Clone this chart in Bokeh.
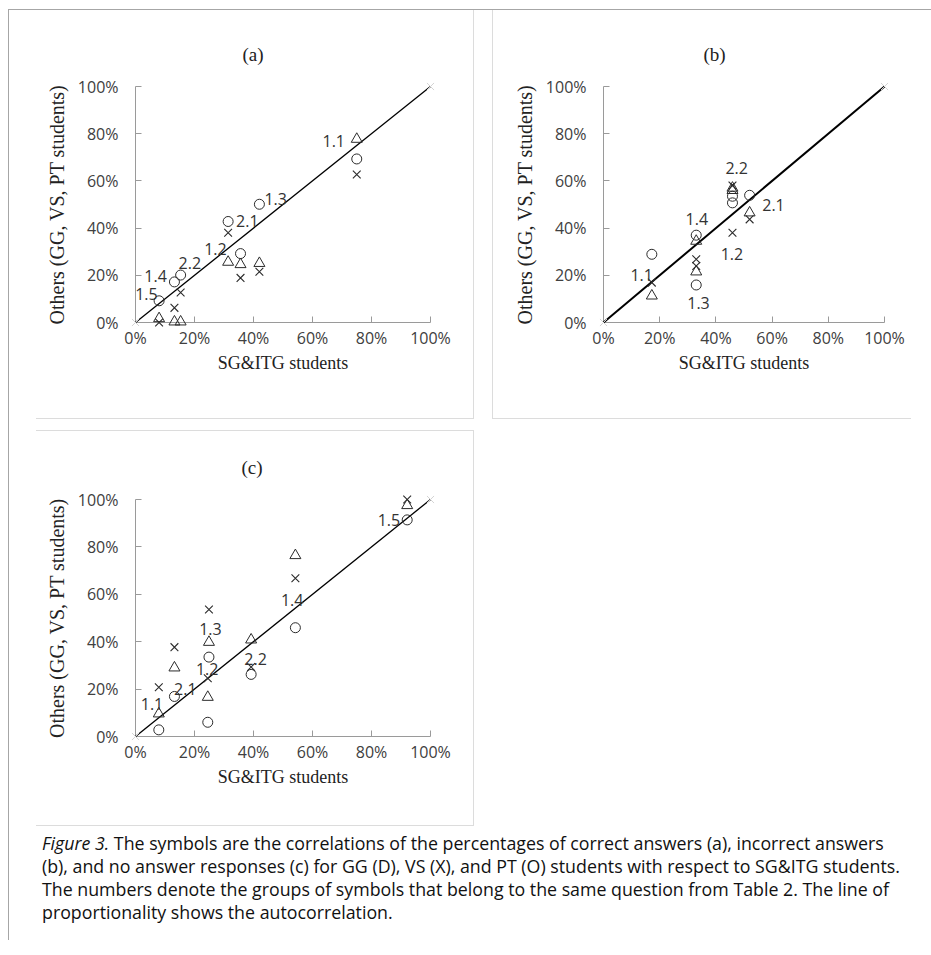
from bokeh.plotting import figure
from bokeh.layouts import row, column
from bokeh.models import Spacer, Div, FixedTicker, Title
from bokeh.core.properties import value
from bokeh.embed import file_html
from bokeh.resources import INLINE

# ---------------- data (percent) ----------------
tick_values = [0, 20, 40, 60, 80, 100]
tick_labels = ["0%", "20%", "40%", "60%", "80%", "100%"]
diag_x = [0, 100]
diag_y = [0, 100]

x_title = "SG&ITG students"
y_title = "Others (GG, VS, PT students)"

# panel (a): correct answers
a_groups = ["1.1", "1.2", "1.3", "1.4", "1.5", "2.1", "2.2"]
a_sg = [75.0, 35.6, 42.0, 13.2, 8.0, 31.4, 15.3]
a_gg = [77.7, 24.6, 25.1, 0.3, 1.7, 25.6, 0.3]
a_vs = [62.7, 18.9, 21.5, 6.2, 0.0, 38.0, 12.7]
a_pt = [69.3, 29.2, 50.1, 17.2, 9.2, 42.8, 20.1]
a_label_x = [67.2, 27.1, 47.5, 6.8, 3.7, 37.9, 18.4]
a_label_y = [76.8, 31.3, 52.4, 19.7, 12.0, 43.0, 25.1]

# panel (b): incorrect answers
b_groups = ["1.1", "1.2", "1.3", "1.4", "2.1", "2.2"]
b_sg = [17.2, 45.9, 33.0, 33.0, 52.0, 45.9]
b_gg = [11.3, 56.0, 21.5, 34.5, 46.5, 57.0]
b_vs = [16.9, 38.0, 23.9, 26.8, 43.7, 58.0]
b_pt = [28.9, 50.7, 15.9, 37.0, 53.9, 53.5]
b_label_x = [13.6, 45.7, 33.8, 33.2, 60.5, 47.4]
b_label_y = [20.0, 28.9, 8.2, 43.7, 50.0, 65.5]

# panel (c): no answer responses
c_groups = ["1.1", "1.2", "1.3", "1.4", "1.5", "2.1", "2.2"]
c_sg = [7.9, 24.5, 24.9, 54.2, 92.1, 13.2, 39.2]
c_gg = [9.6, 16.6, 39.8, 76.4, 97.5, 29.0, 40.8]
c_vs = [20.8, 24.6, 53.6, 66.8, 100.0, 37.7, 29.3]
c_pt = [2.8, 6.0, 33.5, 45.9, 91.4, 16.9, 26.2]
c_label_x = [5.6, 24.3, 25.4, 53.1, 85.9, 16.9, 40.7]
c_label_y = [13.8, 28.6, 45.4, 57.4, 91.4, 20.1, 32.8]

caption_lines = [
    "<i>Figure 3.</i> The symbols are the correlations of the percentages of correct answers (a), incorrect answers",
    "(b), and no answer responses (c) for GG (D), VS (X), and PT (O) students with respect to SG&amp;ITG students.",
    "The numbers denote the groups of symbols that belong to the same question from Table 2. The line of",
    "proportionality shows the autocorrelation.",
]

MARK = "#2b2b2b"
AXIS = "#9a9a9a"
PANEL_BORDER = "1px solid #dcdcdc"


def make_panel(name, title_offset, groups, sg, gg, vs, pt, lx, ly, width, height,
               left, right, top, bottom, diag_w, styles):
    p = figure(width=width, height=height, x_range=(0, 100), y_range=(0, 100),
               output_backend="svg", toolbar_location=None,
               min_border_left=left, min_border_right=right,
               min_border_top=top, min_border_bottom=bottom,
               background_fill_color="white", border_fill_color="white",
               outline_line_color=None, styles=styles)
    p.title = Title(text=name, align="left", offset=title_offset, standoff=44,
                    text_font="Liberation Serif", text_font_size="19px",
                    text_font_style="normal", text_color="#222222")
    p.grid.visible = False
    for ax in (p.xaxis[0], p.yaxis[0]):
        ax.ticker = FixedTicker(ticks=tick_values)
        ax.major_label_overrides = dict(zip(tick_values, tick_labels))
        ax.axis_line_color = AXIS
        ax.major_tick_line_color = AXIS
        ax.major_tick_in = 6
        ax.major_tick_out = 0
        ax.minor_tick_line_color = None
        ax.major_label_text_font = "Open Sans"
        ax.major_label_text_font_size = "16px"
        ax.major_label_text_color = "#404040"
        ax.axis_label_text_font = "Liberation Serif"
        ax.axis_label_text_font_style = "normal"
        ax.axis_label_text_color = "#222222"
    p.xaxis.axis_label = x_title
    p.xaxis.axis_label_text_font_size = "18px"
    p.xaxis.major_label_standoff = 4
    p.xaxis.axis_label_standoff = 1
    p.yaxis.axis_label = y_title
    p.yaxis.axis_label_text_font_size = "20px"
    p.yaxis.major_label_standoff = 17
    p.yaxis.axis_label_standoff = 7

    p.line(diag_x, diag_y, line_color="black", line_width=diag_w, level="overlay")
    p.scatter(diag_x, diag_y, marker="x", size=10, line_color="#d4d4d4",
              line_width=1, level="overlay")

    p.scatter(sg, gg, marker="triangle", size=11, fill_color=None,
              line_color=MARK, line_width=1, level="overlay")
    p.scatter(sg, vs, marker="x", size=11, line_color=MARK, line_width=1.1,
              level="overlay")
    p.scatter(sg, pt, marker="circle", size=10, fill_color=None,
              line_color=MARK, line_width=1, level="overlay")

    p.text(lx, ly, text=groups, text_font=value("Open Sans"),
           text_font_size="16px", text_color="#333333", text_align="center",
           text_baseline="middle", level="overlay")
    return p


fig_a = make_panel("(a)", 107, a_groups, a_sg, a_gg, a_vs, a_pt, a_label_x, a_label_y,
                   438, 409, 99, 44, 76, 97, 1.3,
                   {"border-right": PANEL_BORDER, "border-bottom": PANEL_BORDER})
fig_b = make_panel("(b)", 100, b_groups, b_sg, b_gg, b_vs, b_pt, b_label_x, b_label_y,
                   419, 409, 110, 28, 76, 97, 2.0,
                   {"border-left": PANEL_BORDER, "border-bottom": PANEL_BORDER})
fig_c = make_panel("(c)", 106, c_groups, c_sg, c_gg, c_vs, c_pt, c_label_x, c_label_y,
                   438, 396, 99, 44, 68, 91, 1.3,
                   {"border-top": PANEL_BORDER, "border-right": PANEL_BORDER,
                    "border-bottom": PANEL_BORDER})

caption = Div(
    text=('<div style="font-family:\'Open Sans\';font-size:17.8px;line-height:23px;'
          'color:#111;white-space:nowrap;">' + "<br>".join(caption_lines) + "</div>"),
    width=885, height=95)

FRAME = {"background-color": "#a6a6a6"}
top_pad = Spacer(width=923, height=9)
top_line = Spacer(width=923, height=1, styles=FRAME)
left_line = Spacer(width=1, height=930, styles=FRAME)

inner = column(
    row(Spacer(width=27, height=10), fig_a, Spacer(width=18, height=10), fig_b),
    Spacer(width=10, height=11),
    row(Spacer(width=27, height=10), fig_c),
    Spacer(width=10, height=1),
    row(Spacer(width=28, height=10), caption),
)
page = row(Spacer(width=8, height=10),
           column(top_pad, top_line, row(left_line, inner)))

open("out.html", "w").write(file_html(page, INLINE))
